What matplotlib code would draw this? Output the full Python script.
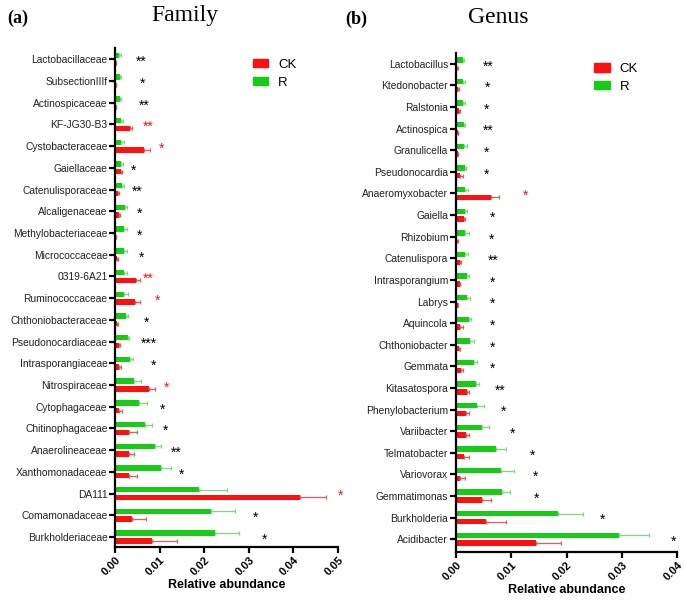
import numpy as np
import matplotlib.pyplot as plt
from matplotlib.patches import Patch

plt.rcParams['font.family'] = ['Liberation Sans', 'DejaVu Sans']

# ---- (a) Family ----
fam_names = ['Lactobacillaceae', 'SubsectionIIIf', 'Actinospicaceae', 'KF-JG30-B3',
             'Cystobacteraceae', 'Gaiellaceae', 'Catenulisporaceae', 'Alcaligenaceae',
             'Methylobacteriaceae', 'Micrococcaceae', '0319-6A21', 'Ruminococcaceae',
             'Chthoniobacteraceae', 'Pseudonocardiaceae', 'Intrasporangiaceae',
             'Nitrospiraceae', 'Cytophagaceae', 'Chitinophagaceae', 'Anaerolineaceae',
             'Xanthomonadaceae', 'DA111', 'Comamonadaceae', 'Burkholderiaceae']
fam_r = [0.0009, 0.0010, 0.0010, 0.0013, 0.0014, 0.0014, 0.0016, 0.0022, 0.0020, 0.0019,
         0.0019, 0.0021, 0.0024, 0.0029, 0.0033, 0.0042, 0.0054, 0.0067, 0.0090, 0.0102,
         0.0188, 0.0215, 0.0224]
fam_r_sd = [0.0005, 0.0004, 0.0004, 0.0005, 0.0005, 0.0003, 0.0004, 0.0004, 0.0007, 0.0008,
            0.0008, 0.0008, 0.0006, 0.0003, 0.0008, 0.0017, 0.0018, 0.0016, 0.0013, 0.0024,
            0.0062, 0.0055, 0.0054]
fam_ck = [0.0001, 0.0001, 0.0001, 0.0033, 0.0064, 0.0013, 0.0006, 0.0008, 0.0002, 0.0005,
          0.0046, 0.0044, 0.0004, 0.0009, 0.0009, 0.0077, 0.0009, 0.0031, 0.0031, 0.0031,
          0.0414, 0.0038, 0.0083]
fam_ck_sd = [0.0, 0.0, 0.0, 0.0004, 0.0014, 0.0002, 0.0002, 0.0002, 0.0001, 0.0002,
             0.0009, 0.0013, 0.0002, 0.0003, 0.0004, 0.0013, 0.0007, 0.0018, 0.0012, 0.0018,
             0.0060, 0.0031, 0.0055]
fam_star_x = [0.0058, 0.0062, 0.0065, 0.0075, 0.0105, 0.0042, 0.0049, 0.0055, 0.0055, 0.0060,
              0.0075, 0.0096, 0.0071, 0.0075, 0.0087, 0.0116, 0.0107, 0.0114, 0.0137, 0.0150,
              0.0505, 0.0314, 0.0335]
fam_stars = ['**', '*', '**', '**', '*', '*', '**', '*', '*', '*', '**', '*', '*', '***',
             '*', '*', '*', '*', '**', '*', '*', '*', '*']
fam_red = [3, 4, 10, 11, 15, 20]

# ---- (b) Genus ----
gen_names = ['Lactobacillus', 'Ktedonobacter', 'Ralstonia', 'Actinospica', 'Granulicella',
             'Pseudonocardia', 'Anaeromyxobacter', 'Gaiella', 'Rhizobium', 'Catenulispora',
             'Intrasporangium', 'Labrys', 'Aquincola', 'Chthoniobacter', 'Gemmata',
             'Kitasatospora', 'Phenylobacterium', 'Variibacter', 'Telmatobacter',
             'Variovorax', 'Gemmatimonas', 'Burkholderia', 'Acidibacter']
gen_r = [0.00125, 0.00125, 0.00125, 0.0014, 0.0015, 0.0017, 0.0016, 0.0017, 0.0017, 0.0017,
         0.0020, 0.0020, 0.0023, 0.0026, 0.0033, 0.0036, 0.0039, 0.0048, 0.0072, 0.0081,
         0.0083, 0.0185, 0.0294]
gen_r_sd = [0.0003, 0.0004, 0.0004, 0.0002, 0.0005, 0.0002, 0.0005, 0.0003, 0.0006, 0.0004,
            0.0004, 0.0006, 0.0004, 0.0006, 0.0006, 0.0005, 0.0012, 0.0011, 0.0019, 0.0024,
            0.0014, 0.0045, 0.0055]
gen_ck = [0.0002, 0.0004, 0.0005, 0.0003, 0.0003, 0.0008, 0.0064, 0.0015, 0.0002, 0.0007,
          0.0007, 0.0003, 0.0008, 0.0006, 0.0010, 0.0020, 0.0018, 0.0018, 0.0015, 0.0008,
          0.0048, 0.0054, 0.0145]
gen_ck_sd = [0.0001, 0.0001, 0.0002, 0.0001, 0.0001, 0.0004, 0.0014, 0.0001, 0.0001, 0.0002,
             0.0001, 0.0001, 0.0005, 0.0001, 0.0002, 0.0004, 0.0005, 0.0005, 0.0008, 0.0008,
             0.0016, 0.0037, 0.0045]
gen_star_x = [0.0058, 0.0057, 0.0056, 0.0058, 0.0056, 0.0056, 0.0126, 0.0066, 0.0065, 0.0067,
              0.0067, 0.0067, 0.0067, 0.0066, 0.0067, 0.0080, 0.0086, 0.0102, 0.0138, 0.0144,
              0.0146, 0.0265, 0.0392]
gen_stars = ['**', '*', '*', '**', '*', '*', '*', '*', '*', '**', '*', '*', '*', '*', '*',
             '**', '*', '*', '*', '*', '*', '*', '*']
gen_red = [6]

RED = '#ff1010'
GREEN = '#17cc17'
RED_ERR = '#e85a5a'
GREEN_ERR = '#7ed87e'


def draw_panel(ax, names, r, r_sd, ck, ck_sd, star_x, stars, red_idx, xmax, ylim):
    n = len(names)
    y = np.arange(n)[::-1]
    h = 0.25
    off = 0.18
    ax.barh(y + off, r, h, color=GREEN, xerr=[np.zeros(n), r_sd],
            error_kw=dict(ecolor=GREEN_ERR, elinewidth=0.9, capsize=1.5, capthick=0.9))
    ax.barh(y - off, ck, h, color=RED, xerr=[np.zeros(n), ck_sd],
            error_kw=dict(ecolor=RED_ERR, elinewidth=0.9, capsize=1.5, capthick=0.9))
    for i in range(n):
        c = RED if i in red_idx else 'black'
        ax.text(star_x[i], y[i] - 0.12, stars[i], color=c, fontsize=10,
                ha='center', va='center', clip_on=False)
    ax.set_yticks(y)
    ax.set_yticklabels(names, fontsize=7.4, color='#222222')
    ax.set_xlim(0, xmax)
    ax.set_ylim(*ylim)
    ticks = np.arange(0, xmax + 1e-9, 0.01)
    ax.set_xticks(ticks)
    ax.set_xticklabels(['%.2f' % t for t in ticks], rotation=45, ha='right',
                       rotation_mode='anchor', fontsize=8, fontweight='bold')
    ax.set_xlabel('Relative abundance', fontsize=9, fontweight='bold', labelpad=1)
    for s in ['top', 'right']:
        ax.spines[s].set_visible(False)
    for s in ['left', 'bottom']:
        ax.spines[s].set_linewidth(1.6)
    ax.tick_params(axis='both', width=1.6, length=4, pad=1.5)


fig = plt.figure(figsize=(6.85, 6.0), dpi=100)
ax1 = fig.add_axes([0.168, 0.088, 0.3255, 0.832])
ax2 = fig.add_axes([0.6655, 0.080, 0.3235, 0.832])

draw_panel(ax1, fam_names, fam_r, fam_r_sd, fam_ck, fam_ck_sd, fam_star_x, fam_stars,
           fam_red, 0.05, (-0.47, 22.52))
draw_panel(ax2, gen_names, gen_r, gen_r_sd, gen_ck, gen_ck_sd, gen_star_x, gen_stars,
           gen_red, 0.04, (-0.59, 22.51))

handles = [Patch(color=RED, label='CK'), Patch(color=GREEN, label='R')]
for ax, (lx, ly) in [(ax1, (0.360, 0.913)), (ax2, (0.858, 0.906))]:
    ax.legend(handles=handles, loc='upper left', bbox_to_anchor=(lx, ly),
              bbox_transform=fig.transFigure, frameon=False, fontsize=9.5,
              handlelength=1.15, handleheight=0.6, labelspacing=0.45, handletextpad=0.75,
              borderpad=0)

fig.text(0.026, 0.970, '(a)', fontsize=13, fontweight='bold', family='Liberation Serif',
         ha='center', va='center')
fig.text(0.270, 0.974, 'Family', fontsize=17, family='Liberation Serif',
         ha='center', va='center')
fig.text(0.520, 0.968, '(b)', fontsize=13, fontweight='bold', family='Liberation Serif',
         ha='center', va='center')
fig.text(0.727, 0.971, 'Genus', fontsize=17, family='Liberation Serif',
         ha='center', va='center')

fig.savefig('out.png', dpi=100)
